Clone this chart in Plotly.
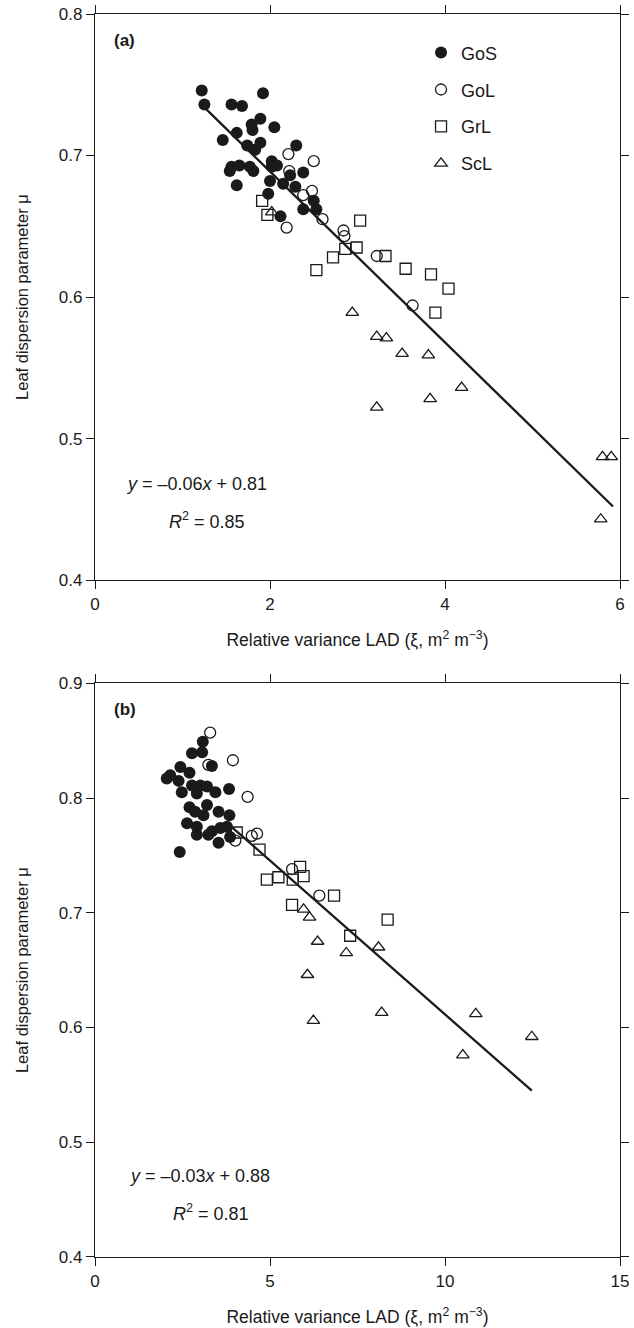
import plotly.graph_objects as go

# ---------------- Panel (a) data ----------------
gos_a_x = [1.22, 1.25, 1.92, 1.56, 1.68, 1.89, 1.79, 2.05, 1.62, 1.80, 1.46, 1.89, 1.74, 1.83, 2.30, 2.02,
           1.56, 1.65, 1.77, 1.81, 2.02, 2.08, 1.54, 2.23, 2.38, 2.00, 1.62, 2.15, 2.29, 1.98, 2.50, 2.53,
           2.38, 2.12]
gos_a_y = [0.746, 0.736, 0.744, 0.736, 0.735, 0.726, 0.722, 0.720, 0.716, 0.718, 0.711, 0.709, 0.707, 0.704,
           0.707, 0.696, 0.692, 0.693, 0.692, 0.689, 0.692, 0.693, 0.689, 0.686, 0.688, 0.682, 0.679, 0.680,
           0.678, 0.673, 0.668, 0.662, 0.662, 0.657]
gol_a_x = [2.21, 2.50, 2.22, 2.48, 2.38, 2.60, 2.19, 2.84, 2.85, 3.22, 3.63]
gol_a_y = [0.701, 0.696, 0.689, 0.675, 0.672, 0.655, 0.649, 0.647, 0.643, 0.629, 0.594]
grl_a_x = [1.91, 1.97, 2.53, 2.72, 2.86, 2.99, 3.03, 3.32, 3.55, 3.84, 4.04, 3.89]
grl_a_y = [0.668, 0.658, 0.619, 0.628, 0.634, 0.635, 0.654, 0.629, 0.620, 0.616, 0.606, 0.589]
scl_a_x = [2.02, 2.94, 3.22, 3.33, 3.51, 3.81, 3.22, 3.83, 4.19, 5.80, 5.90, 5.78]
scl_a_y = [0.660, 0.589, 0.572, 0.571, 0.560, 0.559, 0.522, 0.528, 0.536, 0.487, 0.487, 0.443]
fit_a_x = [1.25, 5.92]
fit_a_y = [0.734, 0.452]

# ---------------- Panel (b) data ----------------
gos_b_x = [3.08, 3.06, 2.77, 3.34, 2.44, 2.15, 2.70, 2.39, 2.77, 3.01, 3.20, 3.44, 2.48, 2.91, 3.83, 2.70,
           3.20, 2.86, 3.10, 3.53, 3.84, 2.63, 2.91, 2.91, 3.34, 3.58, 3.77, 3.86, 3.53, 2.42, 3.24, 2.05]
gos_b_y = [0.849, 0.840, 0.839, 0.828, 0.827, 0.820, 0.822, 0.815, 0.811, 0.811, 0.810, 0.805, 0.805, 0.804,
           0.808, 0.792, 0.794, 0.788, 0.785, 0.788, 0.785, 0.778, 0.775, 0.768, 0.771, 0.774, 0.775, 0.766,
           0.761, 0.753, 0.768, 0.817]
gol_b_x = [3.29, 3.94, 4.36, 3.24, 4.48, 4.63, 4.01, 5.63, 6.41]
gol_b_y = [0.857, 0.833, 0.801, 0.829, 0.767, 0.769, 0.763, 0.738, 0.715]
grl_b_x = [4.05, 4.70, 4.91, 5.24, 5.65, 5.86, 5.96, 5.63, 6.83, 8.36, 7.29]
grl_b_y = [0.770, 0.755, 0.729, 0.731, 0.729, 0.740, 0.732, 0.707, 0.715, 0.694, 0.680]
scl_b_x = [5.96, 6.13, 6.36, 7.18, 8.10, 6.07, 6.24, 8.19, 10.88, 12.48, 10.51]
scl_b_y = [0.703, 0.696, 0.675, 0.665, 0.670, 0.646, 0.606, 0.613, 0.612, 0.592, 0.576]
fit_b_x = [3.9, 12.48]
fit_b_y = [0.775, 0.545]

series_names = ["GoS", "GoL", "GrL", "ScL"]
x_ticks_a = [0, 2, 4, 6]
x_ticks_b = [0, 5, 10, 15]
y_ticks_a = [0.4, 0.5, 0.6, 0.7, 0.8]
y_ticks_b = [0.4, 0.5, 0.6, 0.7, 0.8, 0.9]

FONT = "Liberation Sans, Arial, Helvetica, sans-serif"
INK = "#1a1a1a"

styles = {
    "GoS": dict(symbol="circle", size=12, color=INK, line=dict(width=0, color=INK)),
    "GoL": dict(symbol="circle-open", size=11, color=INK, line=dict(width=1.3, color=INK)),
    "GrL": dict(symbol="square-open", size=11, color=INK, line=dict(width=1.3, color=INK)),
    "ScL": dict(symbol="triangle-up-open", size=11, color=INK, line=dict(width=1.3, color=INK)),
}

fig = go.Figure()

panel_a = {"GoS": (gos_a_x, gos_a_y), "GoL": (gol_a_x, gol_a_y),
           "GrL": (grl_a_x, grl_a_y), "ScL": (scl_a_x, scl_a_y)}
panel_b = {"GoS": (gos_b_x, gos_b_y), "GoL": (gol_b_x, gol_b_y),
           "GrL": (grl_b_x, grl_b_y), "ScL": (scl_b_x, scl_b_y)}

# regression lines
fig.add_trace(go.Scatter(x=fit_a_x, y=fit_a_y, mode="lines", line=dict(color=INK, width=2.3),
                         showlegend=False, xaxis="x", yaxis="y"))
fig.add_trace(go.Scatter(x=fit_b_x, y=fit_b_y, mode="lines", line=dict(color=INK, width=2.3),
                         showlegend=False, xaxis="x2", yaxis="y2"))

for name in ["ScL", "GrL", "GoL", "GoS"]:
    xs, ys = panel_a[name]
    fig.add_trace(go.Scatter(x=xs, y=ys, mode="markers", name=name, marker=styles[name],
                             legendgroup=name, legendrank=series_names.index(name) + 1,
                             showlegend=True, xaxis="x", yaxis="y"))
    xs, ys = panel_b[name]
    fig.add_trace(go.Scatter(x=xs, y=ys, mode="markers", name=name, marker=styles[name],
                             legendgroup=name, showlegend=False, xaxis="x2", yaxis="y2"))

axis_common = dict(showline=True, linecolor=INK, linewidth=1.3, mirror="ticks", ticks="outside",
                   ticklen=8, tickwidth=1.3, tickcolor=INK, showgrid=False, zeroline=False,
                   automargin=False, tickfont=dict(family=FONT, size=17, color=INK))

xtitle = "Relative variance LAD (ξ, m<sup>2</sup> m<sup>−3</sup>)"
ytitle = "Leaf dispersion parameter μ"

dom_a = [0.5446, 1.0]
dom_b = [0.0, 0.4615]

fig.update_layout(
    width=634, height=1328,
    margin=dict(l=95, r=14, t=14, b=71, autoexpand=False),
    paper_bgcolor="white", plot_bgcolor="white",
    font=dict(family=FONT, color=INK, size=17),
    xaxis=dict(axis_common, range=[0, 6], tickvals=x_ticks_a, anchor="y", domain=[0, 1],
               title=dict(text=xtitle, font=dict(size=17.5), standoff=21)),
    yaxis=dict(axis_common, range=[0.4, 0.8], tickvals=y_ticks_a, tickformat=".1f", anchor="x",
               domain=dom_a, title=dict(text=ytitle, font=dict(size=16.5), standoff=26)),
    xaxis2=dict(axis_common, range=[0, 15], tickvals=x_ticks_b, anchor="y2", domain=[0, 1],
                title=dict(text=xtitle, font=dict(size=17.5), standoff=21)),
    yaxis2=dict(axis_common, range=[0.4, 0.9], tickvals=y_ticks_b, tickformat=".1f", anchor="x2",
                domain=dom_b, title=dict(text=ytitle, font=dict(size=16.5), standoff=26)),
    legend=dict(x=0.621, y=0.9836, xanchor="left", yanchor="top", bgcolor="rgba(0,0,0,0)",
                font=dict(family=FONT, size=18, color=INK), tracegroupgap=10.5,
                traceorder="grouped"),
    showlegend=True,
)

ann = [
    dict(text="<b>(a)</b>", xref="x domain", yref="y domain", x=0.032, y=0.954, xanchor="left",
         yanchor="middle", font=dict(size=17)),
    dict(text="<b>(b)</b>", xref="x2 domain", yref="y2 domain", x=0.032, y=0.955, xanchor="left",
         yanchor="middle", font=dict(size=17)),
    dict(text="<i>y</i> = –0.06<i>x</i> + 0.81", xref="x domain", yref="y domain", x=0.0545, y=0.170,
         xanchor="left", yanchor="middle", font=dict(size=18)),
    dict(text="<i>R</i><sup>2</sup> = 0.85", xref="x domain", yref="y domain", x=0.138, y=0.105,
         xanchor="left", yanchor="middle", font=dict(size=18)),
    dict(text="<i>y</i> = –0.03<i>x</i> + 0.88", xref="x2 domain", yref="y2 domain", x=0.0605, y=0.142,
         xanchor="left", yanchor="middle", font=dict(size=18)),
    dict(text="<i>R</i><sup>2</sup> = 0.81", xref="x2 domain", yref="y2 domain", x=0.145, y=0.078,
         xanchor="left", yanchor="middle", font=dict(size=18)),
]
for a in ann:
    a["showarrow"] = False
    fig.add_annotation(**a)

fig.write_html("out.html")
